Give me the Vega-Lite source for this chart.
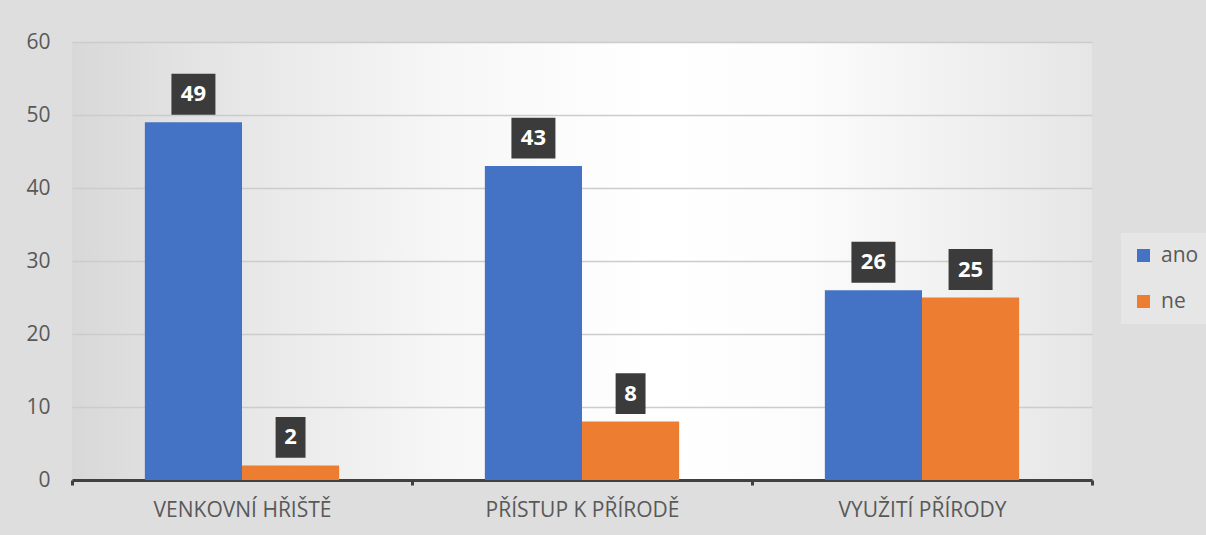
{
  "$schema": "https://vega.github.io/schema/vega-lite/v6.json",
  "width": 1020,
  "height": 438,
  "autosize": "none",
  "padding": {"left": 72, "top": 42, "right": 114, "bottom": 55},
  "background": "#dedede",
  "config": {
    "font": "Open Sans",
    "view": {
      "stroke": null,
      "fill": {
        "gradient": "linear",
        "x1": 0, "y1": 0.5, "x2": 1, "y2": 0.5,
        "stops": [
          {"offset": 0, "color": "#d8d8d8"},
          {"offset": 0.1, "color": "#e2e2e2"},
          {"offset": 0.37, "color": "#f7f7f7"},
          {"offset": 0.57, "color": "#ffffff"},
          {"offset": 0.72, "color": "#fcfcfc"},
          {"offset": 1, "color": "#e6e6e6"}
        ]
      }
    }
  },
  "data": {
    "values": [
      {"group": "VENKOVNÍ HŘIŠTĚ", "series": "ano", "value": 49},
      {"group": "VENKOVNÍ HŘIŠTĚ", "series": "ne", "value": 2},
      {"group": "PŘÍSTUP K PŘÍRODĚ", "series": "ano", "value": 43},
      {"group": "PŘÍSTUP K PŘÍRODĚ", "series": "ne", "value": 8},
      {"group": "VYUŽITÍ PŘÍRODY", "series": "ano", "value": 26},
      {"group": "VYUŽITÍ PŘÍRODY", "series": "ne", "value": 25}
    ]
  },
  "encoding": {
    "x": {
      "field": "group",
      "type": "nominal",
      "sort": null,
      "scale": {"paddingInner": 0, "paddingOuter": 0},
      "axis": {
        "title": null,
        "labelAngle": 0,
        "labelFontSize": 21,
        "labelLimit": 0,
        "labelColor": "#595959",
        "labelPadding": 14,
        "domainColor": "#404040",
        "domainWidth": 3,
        "tickColor": "#404040",
        "tickWidth": 3,
        "tickSize": 5,
        "tickBand": "extent",
        "grid": false
      }
    },
    "xOffset": {
      "field": "series",
      "type": "nominal",
      "sort": ["ano", "ne"],
      "scale": {"paddingOuter": 0.75, "paddingInner": 0}
    },
    "y": {
      "field": "value",
      "type": "quantitative",
      "scale": {"domain": [0, 60], "nice": false},
      "axis": {
        "title": null,
        "values": [0, 10, 20, 30, 40, 50, 60],
        "domain": false,
        "ticks": false,
        "labelPadding": 22,
        "labelFontSize": 21,
        "labelColor": "#595959",
        "gridColor": "#cccccc",
        "gridWidth": 1.5
      }
    }
  },
  "layer": [
    {
      "mark": {"type": "bar"},
      "encoding": {
        "color": {
          "field": "series",
          "type": "nominal",
          "scale": {"domain": ["ano", "ne"], "range": ["#4472C4", "#ED7D31"]},
          "legend": {
            "title": null,
            "orient": "none",
            "legendX": 1049,
            "legendY": 191,
            "symbolType": "square",
            "symbolSize": 169,
            "symbolStrokeWidth": 0,
            "labelFontSize": 21,
            "labelColor": "#595959",
            "labelOffset": 7,
            "rowPadding": 24,
            "padding": 12,
            "fillColor": "#e6e6e6"
          }
        }
      }
    },
    {
      "mark": {"type": "point", "filled": true, "yOffset": -28, "size": 1936, "opacity": 1, "color": "#3b3b3b"},
      "encoding": {
        "shape": {
          "condition": {"test": "datum.value < 10", "value": "M-0.68,-0.93H0.68V0.93H-0.68Z"},
          "value": "M-1,-0.93H1V0.93H-1Z"
        }
      }
    },
    {
      "mark": {"type": "text", "yOffset": -28, "color": "#ffffff", "fontWeight": "bold", "fontSize": 22, "baseline": "middle"},
      "encoding": {"text": {"field": "value", "type": "quantitative"}}
    }
  ]
}
